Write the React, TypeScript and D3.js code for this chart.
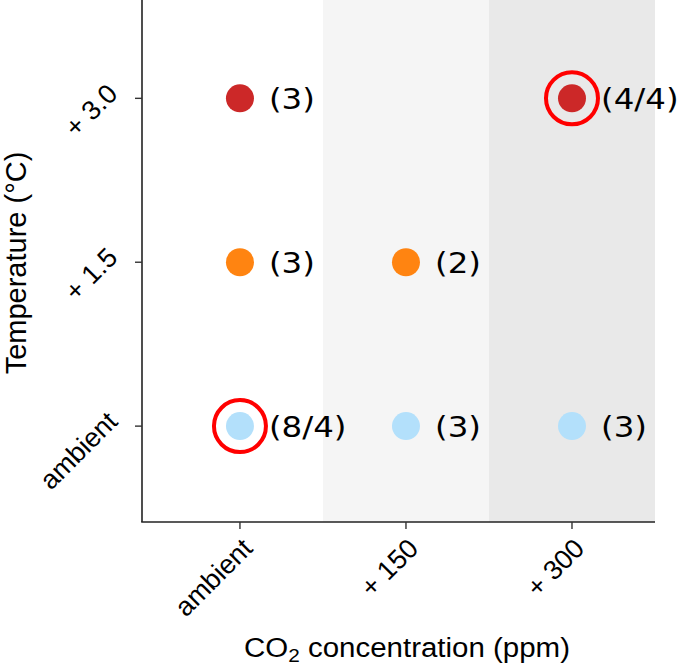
import React from "react";
import * as d3 from "d3";

const co2Levels = ["ambient", "+ 150", "+ 300"];
const tempLevels = ["ambient", "+ 1.5", "+ 3.0"];
const tempColors = ["#b3e0fb", "#ff8411", "#cc2828"];
const bandFills = ["#ffffff", "#f5f5f5", "#e9e9e9"];

const pointCo2 = [0, 1, 2, 0, 1, 0, 2];
const pointTemp = [0, 0, 0, 1, 1, 2, 2];
const pointLabels = ["(8/4)", "(3)", "(3)", "(3)", "(2)", "(3)", "(4/4)"];
const pointHighlighted = [true, false, false, false, false, false, true];

const W = 685;
const H = 666;
const left = 142;
const right = 655;
const top = 0;
const bottom = 522;

export default function App() {
  const x = d3.scaleLinear().domain([-0.59, 2.5]).range([left, right]);
  const y = d3.scaleLinear().domain([-0.585, 2.6]).range([bottom, top]);
  const tickFont = "'Liberation Sans', Arial, sans-serif";

  return (
    <svg
      width={W}
      height={H}
      style={{ position: "absolute", left: 0, top: 0, background: "#fff" }}
    >
      {co2Levels.map((c, i) => {
        const x0 = Math.max(left, x(i - 0.5));
        const x1 = Math.min(right, x(i + 0.5));
        return (
          <rect key={c} x={x0} y={top} width={x1 - x0} height={bottom - top} fill={bandFills[i]} />
        );
      })}
      {/* axes */}
      <line x1={left} x2={left} y1={top} y2={bottom} stroke="#222" strokeWidth={1.6} />
      <line x1={left - 0.8} x2={right} y1={bottom} y2={bottom} stroke="#222" strokeWidth={1.6} />
      {co2Levels.map((c, i) => (
        <g key={c}>
          <line x1={x(i)} x2={x(i)} y1={bottom} y2={bottom + 7} stroke="#333" strokeWidth={1.4} />
          <text
            transform={`translate(${x(i) + 14},${bottom + 28}) rotate(-45)`}
            textAnchor="end"
            fontFamily={tickFont}
            fontSize={27}
            fill="#000"
          >
            {c}
          </text>
        </g>
      ))}
      {tempLevels.map((t, i) => (
        <g key={t}>
          <line x1={left - 7} x2={left} y1={y(i)} y2={y(i)} stroke="#333" strokeWidth={1.4} />
          <text
            transform={`translate(${left - 23},${y(i) - 3}) rotate(-45)`}
            textAnchor="end"
            fontFamily={tickFont}
            fontSize={27}
            fill="#000"
          >
            {t}
          </text>
        </g>
      ))}
      {/* axis titles */}
      <text
        x={407}
        y={657}
        textAnchor="middle"
        fontFamily={tickFont}
        fontSize={27}
        textLength={326}
        lengthAdjust="spacingAndGlyphs"
        fill="#000"
      >
        CO
        <tspan fontSize={19} dy={5}>2</tspan>
        <tspan dy={-5}> concentration (ppm)</tspan>
      </text>
      <text
        transform={`translate(26,${(top + bottom) / 2 + 2}) rotate(-90)`}
        textAnchor="middle"
        fontFamily={tickFont}
        fontSize={29}
        fill="#000"
      >
        Temperature (°C)
      </text>
      {/* points */}
      {pointLabels.map((lab, k) => {
        const cx = x(pointCo2[k]);
        const cy = y(pointTemp[k]);
        return (
          <g key={k}>
            {pointHighlighted[k] && (
              <circle cx={cx} cy={cy} r={26} fill="none" stroke="#ff0000" strokeWidth={4} />
            )}
            <circle cx={cx} cy={cy} r={14} fill={tempColors[pointTemp[k]]} />
            <text
              transform={`translate(${cx + 29},${cy}) scale(1.12,1)`}
              dy="0.36em"
              fontFamily="'DejaVu Sans', Verdana, sans-serif"
              fontSize={29}
              fill="#000"
            >
              {lab}
            </text>
          </g>
        );
      })}
    </svg>
  );
}
